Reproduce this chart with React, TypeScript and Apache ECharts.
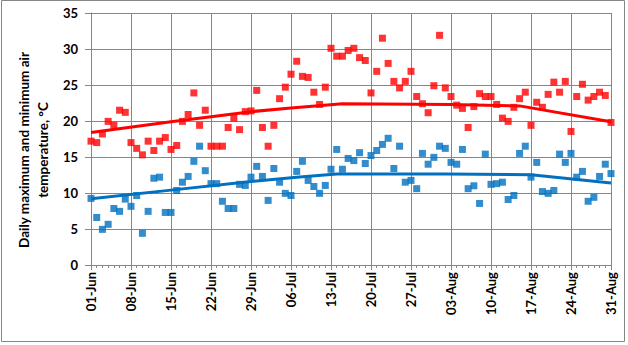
import React, { useEffect, useRef } from "react";
import * as echarts from "echarts";

const tickLabels = ["01-Jun", "08-Jun", "15-Jun", "22-Jun", "29-Jun", "06-Jul", "13-Jul", "20-Jul", "27-Jul", "03-Aug", "10-Aug", "17-Aug", "24-Aug", "31-Aug"];

// daily maximum air temperature, 01-Jun .. 31-Aug
const maxTemp = [
  17.2, 17.0, 18.2, 19.95, 19.4, 21.5, 21.2, 17.0, 16.2, 15.3,
  17.2, 15.9, 17.2, 17.7, 16.05, 16.6, 19.95, 20.9, 23.9, 19.4,
  21.5, 16.5, 16.5, 16.5, 19.1, 20.4, 18.8, 21.3, 21.4, 24.25,
  19.1, 16.5, 19.4, 23.1, 24.7, 26.5, 28.3, 26.2, 26.05, 24.0,
  22.3, 24.7, 30.1, 29.0, 29.0, 29.8, 30.1, 28.8, 28.4, 23.9,
  26.9, 31.5, 28.0, 25.5, 24.6, 25.5, 26.9, 23.4, 22.4, 21.15,
  24.9, 31.9, 24.6, 23.4, 22.2, 21.75, 19.1, 22.0, 23.8, 23.4,
  23.4, 22.3, 20.4, 19.95, 21.9, 23.1, 24.0, 19.4, 22.6, 21.9,
  23.7, 25.4, 24.0, 25.5, 18.55, 23.4, 25.1, 22.9, 23.4, 24.0,
  23.55, 19.8,
];

// daily minimum air temperature, 01-Jun .. 31-Aug
const minTemp = [
  9.25, 6.6, 4.95, 5.65, 7.85, 7.45, 9.15, 8.15, 9.65, 4.4,
  7.45, 12.05, 12.2, 7.3, 7.3, 10.35, 11.5, 12.3, 14.4, 16.5,
  13.1, 11.3, 11.3, 8.85, 7.85, 7.85, 11.2, 11.05, 12.2, 13.7,
  12.3, 8.97, 13.4, 11.5, 9.95, 9.65, 13.0, 14.4, 11.75, 10.9,
  9.95, 11.05, 13.3, 16.05, 13.3, 14.8, 14.5, 15.6, 14.1, 15.2,
  15.9, 16.75, 17.6, 13.4, 16.5, 11.5, 11.75, 10.6, 15.5, 14.0,
  14.95, 16.5, 16.2, 14.25, 14.0, 16.05, 10.6, 11.0, 8.55, 15.4,
  11.2, 11.3, 11.5, 9.1, 9.65, 15.5, 16.5, 12.2, 14.25, 10.2,
  9.95, 10.35, 15.4, 14.25, 15.5, 12.2, 13.0, 8.85, 9.4, 12.3,
  14.0, 12.7,
];

// smoothed trend lines (day index, value)
const maxTrendDays = [0, 14, 28, 35, 44, 63, 75, 91];
const maxTrendVals = [18.4, 19.9, 21.3, 21.8, 22.4, 22.3, 22.1, 19.9];
const minTrendDays = [0, 14, 28, 36, 43, 62, 77, 91];
const minTrendVals = [9.2, 10.4, 11.6, 12.2, 12.65, 12.65, 12.55, 11.4];

const RED = "#FF0000";
const BLUE = "#0070C0";
const GRID = "#868686";
const FONT = "Lato";

export default function App() {
  const ref = useRef<HTMLDivElement>(null);
  useEffect(() => {
    if (!ref.current) return;
    const chart = echarts.init(ref.current, null, { renderer: "svg" });
    chart.setOption({
      animation: false,
      backgroundColor: "#ffffff",
      grid: { left: 91, right: 17, top: 13, bottom: 80, containLabel: false },
      graphic: [
        {
          type: "rect",
          shape: { x: 1.5, y: 0.5, width: 623, height: 341 },
          style: { fill: "none", stroke: GRID, lineWidth: 1 },
          silent: true,
        },
      ],
      xAxis: {
        type: "value",
        min: 0,
        max: 91,
        interval: 7,
        axisLine: { show: true, lineStyle: { color: GRID, width: 1 } },
        axisTick: { show: true, length: 5, lineStyle: { color: GRID } },
        minorTick: { show: true, splitNumber: 7, length: 3, lineStyle: { color: GRID } },
        splitLine: { show: true, lineStyle: { color: GRID, width: 1 } },
        axisLabel: {
          rotate: 90,
          margin: 7,
          fontFamily: FONT,
          fontWeight: "bold",
          fontSize: 13,
          color: "#000",
          formatter: (v: number) => tickLabels[Math.round(v / 7)] ?? "",
        },
      },
      yAxis: {
        type: "value",
        min: 0,
        max: 35,
        interval: 5,
        name: "Daily maximum and minimum air\ntemperature, °C",
        nameLocation: "middle",
        nameRotate: 90,
        nameGap: 33,
        nameTextStyle: {
          fontFamily: FONT,
          fontWeight: "bold",
          fontSize: 13.5,
          color: "#000",
          lineHeight: 19,
          align: "center",
          padding: [0, 22, 0, 0],
        },
        axisLine: { show: true, lineStyle: { color: GRID, width: 1 } },
        axisTick: { show: true, length: 6, lineStyle: { color: GRID } },
        splitLine: { show: true, lineStyle: { color: GRID, width: 1 } },
        axisLabel: {
          margin: 13,
          fontFamily: FONT,
          fontWeight: "bold",
          fontSize: 13,
          color: "#000",
        },
      },
      series: [
        {
          name: "Max trend",
          type: "line",
          data: maxTrendDays.map((d, i) => [d, maxTrendVals[i]]),
          showSymbol: false,
          lineStyle: { color: RED, width: 3 },
          z: 2,
        },
        {
          name: "Min trend",
          type: "line",
          data: minTrendDays.map((d, i) => [d, minTrendVals[i]]),
          showSymbol: false,
          lineStyle: { color: BLUE, width: 3 },
          z: 2,
        },
        {
          name: "Max",
          type: "scatter",
          data: maxTemp.map((v, i) => [i, v]),
          symbol: "rect",
          symbolSize: 7,
          itemStyle: { color: RED },
          z: 3,
        },
        {
          name: "Min",
          type: "scatter",
          data: minTemp.map((v, i) => [i, v]),
          symbol: "rect",
          symbolSize: 7,
          itemStyle: { color: BLUE },
          z: 3,
        },
      ],
    });
    return () => chart.dispose();
  }, []);
  return (
    <div
      ref={ref}
      style={{ position: "fixed", left: 0, top: 0, width: 628, height: 345, background: "#fff" }}
    />
  );
}
